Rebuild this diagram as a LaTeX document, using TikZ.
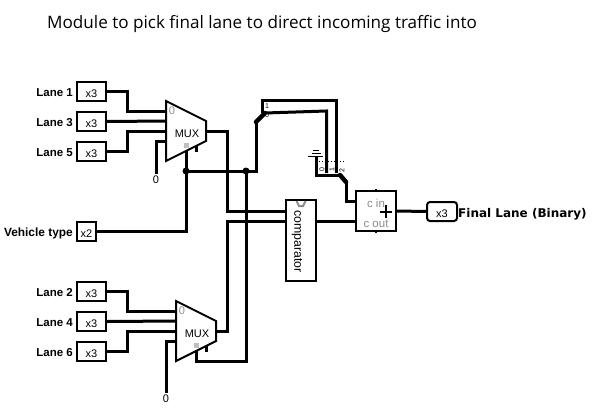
\documentclass[tikz,border=0pt]{standalone}
\usepackage{fontspec}
\setmainfont{Liberation Sans}
\newfontfamily\titlefont{Open Sans}
\newfontfamily\finalfont{DejaVu Sans}
\tikzset{
  wire/.style={line width=3pt,line join=miter},
  jog/.style={line width=4.5pt,line cap=round},
  pinbox/.style={draw,line width=2pt,minimum width=29pt,minimum height=19pt,inner sep=0pt,text height=11pt,text depth=0pt,font=\fontsize{11}{11}\selectfont},
  lanelabel/.style={anchor=east,inner sep=0pt,font=\bfseries\fontsize{11.5}{12}\selectfont},
  muxbody/.style={draw,line width=2pt,line join=miter,fill=white},
  grayhint/.style={text=black!45,inner sep=0pt,font=\fontsize{11}{11}\selectfont},
  tinyhint/.style={inner sep=0pt,font=\fontsize{7}{7}\selectfont},
  zeroconst/.style={inner sep=0pt,font=\fontsize{11}{11}\selectfont}
}
\begin{document}
\begin{tikzpicture}[x=1pt,y=-1pt]
\useasboundingbox (0,0) rectangle (593,412);
\node[anchor=west,inner sep=0pt,font=\titlefont\fontsize{17.1}{18}\selectfont] (title) at (47,24) {Module to pick final lane to direct incoming traffic into};
% input pins
\node[pinbox] (laneone) at (91.5,91.5) {x3};
\node[pinbox] (lanethree) at (91.5,121.5) {x3};
\node[pinbox] (lanefive) at (91.5,151.5) {x3};
\node[pinbox] (lanetwo) at (91.5,291.5) {x3};
\node[pinbox] (lanefour) at (91.5,321.5) {x3};
\node[pinbox] (lanesix) at (91.5,351.5) {x3};
\node[pinbox,minimum width=19pt] (vehicle) at (86.5,231.5) {x2};
\node[lanelabel] (lblone) at (73,93) {Lane 1};
\node[lanelabel] (lblthree) at (73,123) {Lane 3};
\node[lanelabel] (lblfive) at (73,153) {Lane 5};
\node[lanelabel] (lbltwo) at (73,293) {Lane 2};
\node[lanelabel] (lblfour) at (73,323) {Lane 4};
\node[lanelabel] (lblsix) at (73,353) {Lane 6};
\node[lanelabel,font=\bfseries\fontsize{11.9}{12}\selectfont] (lblvehicle) at (73,233) {Vehicle type};
% upper mux
\coordinate (muxAzero) at (167,111);
\coordinate (muxAone) at (167,121);
\coordinate (muxAtwo) at (167,131);
\coordinate (muxAthree) at (167,141);
\coordinate (muxAout) at (206,131);
\coordinate (muxAsel) at (186,150);
\node[zeroconst] (zeroA) at (156,180) {0};
\coordinate (zeroAtop) at (156,174);
% lower mux
\coordinate (muxBzero) at (177,311);
\coordinate (muxBone) at (177,321);
\coordinate (muxBtwo) at (177,331);
\coordinate (muxBthree) at (177,341);
\coordinate (muxBout) at (216,331);
\coordinate (muxBsel) at (196,351);
\node[zeroconst] (zeroB) at (166,399) {0};
\coordinate (zeroBtop) at (166,393);
% comparator, adder, output
\node[draw,fill=white,line width=2pt,minimum width=30pt,minimum height=81pt,inner sep=0pt] (compare) at (301,240.5) {};
\node[rotate=-90,inner sep=0pt,font=\fontsize{12.3}{13}\selectfont] (comparelbl) at (297,241.5) {comparator};
\coordinate (compareA) at (286,211);
\coordinate (compareB) at (286,221);
\coordinate (compareOut) at (316,221);
\node[draw,fill=white,line width=2pt,minimum width=40pt,minimum height=40pt,inner sep=0pt] (adder) at (376,211) {};
\coordinate (adderIn) at (356,201);
\coordinate (adderCout) at (356,221);
\node[grayhint,font=\fontsize{11.5}{12}\selectfont] (cin) at (376,203) {c in};
\node[grayhint,font=\fontsize{11.5}{12}\selectfont] (cout) at (376,224) {c out};
\node[pinbox,rounded corners=3pt,minimum width=30pt] (finalpin) at (442,211.5) {x3};
\node[anchor=west,inner sep=0pt,font=\finalfont\bfseries\fontsize{12}{12}\selectfont] (finallbl) at (458,214) {Final Lane (Binary)};
% small mux and ground
\coordinate (muxCin) at (265,113);
\coordinate (muxCtop) at (262,100);
\coordinate (muxCbend) at (256,122);
\coordinate (gndpin) at (316,156);
% wires
\draw[wire] (laneone.east) -- (127,91.5) |- (muxAzero);
\draw[wire] (lanethree.east) -- (muxAone);
\draw[wire] (lanefive.east) -- (127,151.5) |- (muxAtwo);
\draw[wire] (muxAthree) -| (zeroAtop);
\draw[wire] (lanetwo.east) -- (127,291.5) |- (muxBzero);
\draw[wire] (lanefour.east) -- (muxBone);
\draw[wire] (lanesix.east) -- (127,351.5) |- (muxBtwo);
\draw[wire] (muxBthree) -| (zeroBtop);
\draw[wire] (vehicle.east) -| (muxAsel);
\draw[wire] (186,171) -- (256,171) -- (muxCbend);
\draw[jog] (muxCbend) -- (muxCin);
\draw[wire] (246,171) -- (246,361) -| (muxBsel);
\draw[wire] (muxAout) -| (227,211) -- (compareA);
\draw[wire] (muxBout) -| (227,221) -- (compareB);
\draw[wire] (compareOut) -- (adderCout);
\draw[wire] (adder.east) -- (finalpin.west);
\draw[wire] (muxCin) -- (326.5,111) -- (326.5,173);
\draw[wire] (262,113) -- (muxCtop) -- (336.5,100) -- (336.5,173);
\draw[wire] (gndpin) -- (316,175) -- (340,175);
\draw[jog] (340,175) -- (346,182);
\draw[wire] (346,182) -- (346,201) -- (adderIn);
% upper mux body
\draw[muxbody] (166,101) -- (206,121) -- (206,141) -- (166,161) -- cycle;
\node[inner sep=0pt,font=\fontsize{11}{11}\selectfont] (muxAlbl) at (187,134) {MUX};
\node[grayhint] (muxAhint) at (172,111) {0};
\fill[black!25] (184,143) rectangle (189,148);
\draw[line width=3pt] (196,146) -- (196,152);
% lower mux body
\draw[muxbody] (176,301) -- (216,321) -- (216,341) -- (176,361) -- cycle;
\node[inner sep=0pt,font=\fontsize{11}{11}\selectfont] (muxBlbl) at (197,334) {MUX};
\node[grayhint] (muxBhint) at (182,311) {0};
\fill[black!25] (194,343) rectangle (199,348);
\draw[line width=3pt] (206,346) -- (206,352);
% dots
\fill (186,171) circle (3.5pt);
\fill (246,171) circle (3.5pt);
\node[tinyhint] (hintone) at (267,106) {1};
\node[tinyhint] (hintzero) at (267,115) {0};
\node[tinyhint,rotate=90] (hintbzero) at (322,170) {0};
\node[tinyhint,rotate=90] (hintbone) at (332,170) {1};
\node[tinyhint,rotate=90] (hintbtwo) at (342,171) {2};
% ground
\draw[line width=1pt] (308,156) -- (323,156);
\draw[line width=1pt] (312,153) -- (321,153);
\draw[line width=1pt] (313,150) -- (319,150);
\draw[line width=1pt,dotted] (316,161) -- (346,161);
% marks on comparator and adder
\draw[line width=2pt,black!45] (296.5,201) -- (299,206) -- (303,206) -- (305.5,201);
\draw[line width=2.5pt] (386,205) -- (386,218) (380,212) -- (392,212);
\draw[line width=2pt] (376,189) -- (376,191) (376,231) -- (376,233);
\end{tikzpicture}
\end{document}
